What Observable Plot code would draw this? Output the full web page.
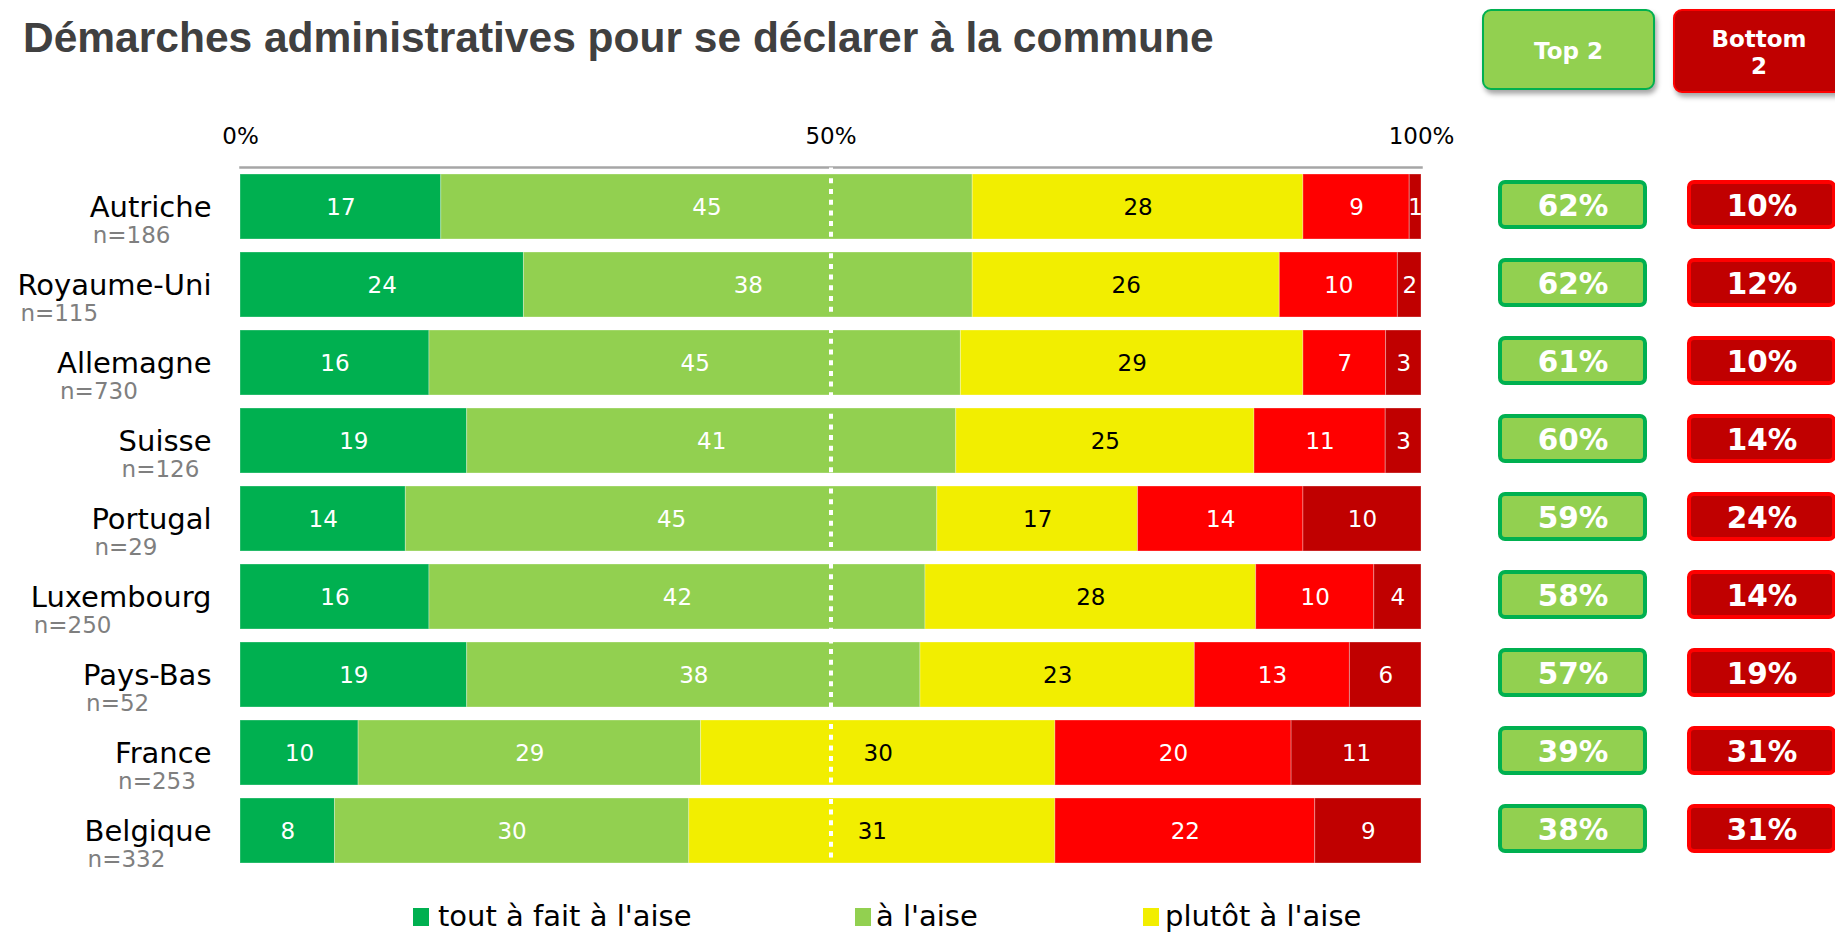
<!DOCTYPE html>
<html>
<head>
<meta charset="utf-8">
<script src="https://cdn.jsdelivr.net/npm/d3@7"></script>
<script src="https://cdn.jsdelivr.net/npm/@observablehq/plot@0.6"></script>
<style>
  body { margin: 0; background: #fff; }
  #wrap { position: relative; width: 1835px; height: 932px; overflow: hidden; font-family: "DejaVu Sans", sans-serif; }
  #wrap svg { position: absolute; left: 0; top: 0; }
  #title { position: absolute; left: 23px; top: 14px; font: bold 42.5px/47px "Liberation Sans", Arial, sans-serif; color: #404040; white-space: nowrap; }
  .hdr { position: absolute; top: 9px; box-sizing: border-box; border-radius: 9px; color: #fff; font: bold 23px/27px "DejaVu Sans", sans-serif; text-align: center; box-shadow: 2px 4px 5px rgba(0,0,0,0.35); }
  #hdrTop { left: 1482px; width: 173px; height: 81px; background: #92d050; border: 2px solid #00b050; padding-top: 27px; }
  #hdrBottom { left: 1673px; width: 172px; height: 84px; background: #c00000; border: 2px solid #ff0000; padding-top: 15px; }
  .leg { position: absolute; top: 899px; font: 29px/34px "DejaVu Sans", sans-serif; color: #000; white-space: nowrap; }
  .sw { position: absolute; top: 908px; width: 16px; height: 18px; }
</style>
</head>
<body>
<div id="wrap">
  <div id="title">Démarches administratives pour se déclarer à la commune</div>
  <div class="hdr" id="hdrTop">Top 2</div>
  <div class="hdr" id="hdrBottom">Bottom<br>2</div>
</div>
<script>
// ---- data ----
const countries = ["Autriche", "Royaume-Uni", "Allemagne", "Suisse", "Portugal", "Luxembourg", "Pays-Bas", "France", "Belgique"];
const sampleSizes = [186, 115, 730, 126, 29, 250, 52, 253, 332];
const levels = ["tout à fait à l'aise", "à l'aise", "plutôt à l'aise", "pas vraiment à l'aise", "pas du tout à l'aise"];
const toutAFait   = [17, 24, 16, 19, 14, 16, 19, 10, 8];
const aLAise      = [45, 38, 45, 41, 45, 42, 38, 29, 30];
const plutot      = [28, 26, 29, 25, 17, 28, 23, 30, 31];
const pasVraiment = [9, 10, 7, 11, 14, 10, 13, 20, 22];
const pasDuTout   = [1, 2, 3, 3, 10, 4, 6, 11, 9];
const top2    = [62, 62, 61, 60, 59, 58, 57, 39, 38];
const bottom2 = [10, 12, 10, 14, 24, 14, 19, 31, 31];
const tickValues = [0, 0.5, 1];
const tickLabels = ["0%", "50%", "100%"];
const boxColumns = ["Top 2", "Bottom 2"];
const legendShown = ["tout à fait à l'aise", "à l'aise", "plutôt à l'aise"];

// ---- styles ----
const colors = ["#00b050", "#92d050", "#f2ee00", "#ff0000", "#c00000"];
const labelColors = ["white", "white", "black", "white", "white"];
const boxFill = {"Top 2": "#92d050", "Bottom 2": "#c00000"};
const boxStroke = {"Top 2": "#00b050", "Bottom 2": "#ff0000"};

const series = [toutAFait, aLAise, plutot, pasVraiment, pasDuTout];
const rows = countries.flatMap((c, i) => levels.map((l, j) => ({country: c, level: l, value: series[j][i], tc: labelColors[j]})));
const boxRows = countries.flatMap((c, i) => [
  {country: c, col: "Top 2", v: top2[i]},
  {country: c, col: "Bottom 2", v: bottom2[i]}
]);

const W = 1835, H = 932;
const yScale = {domain: countries, axis: null, paddingInner: 13 / 78, paddingOuter: 0};

const main = Plot.plot({
  width: W, height: H,
  marginLeft: 240, marginRight: W - 1421, marginTop: 174, marginBottom: H - 863,
  x: {domain: [0, 1], axis: null},
  y: yScale,
  color: {domain: levels, range: colors},
  style: {background: "transparent", fontFamily: "DejaVu Sans, sans-serif", overflow: "visible"},
  marks: [
    Plot.frame({anchor: "top", stroke: "#a6a6a6", strokeWidth: 2.5, dy: -7}),
    Plot.barX(rows, Plot.stackX({x: "value", y: "country", fill: "level", z: "level", order: null, offset: "normalize",
      stroke: "white", strokeOpacity: 0.3, strokeWidth: 1})),
    Plot.ruleX([0.5], {stroke: "white", strokeWidth: 4, strokeDasharray: "5,5.7", insetTop: -6.4}),
    Plot.text(rows, Plot.stackX({x: "value", y: "country", z: "level", order: null, offset: "normalize",
      text: d => String(d.value), fill: "tc", fontSize: 23, dy: 1})),
    Plot.text(tickValues, {x: d => d, text: (d, i) => tickLabels[i], frameAnchor: "top", lineAnchor: "middle", dy: -38, fontSize: 23, fill: "black"}),
    Plot.text(countries, {y: d => d, text: d => d, frameAnchor: "left", textAnchor: "end", lineAnchor: "middle", dx: -29, dy: 1,
      fontSize: 29, fill: "black"}),
    Plot.text(countries, {y: d => d, text: (d, i) => "n=" + sampleSizes[i], frameAnchor: "left", textAnchor: "end", lineAnchor: "middle", dx: -29, dy: 29,
      fontSize: 23, fill: "#7f7f7f"})
  ]
});

const side = Plot.plot({
  width: W, height: H,
  marginLeft: 0, marginRight: 0, marginTop: 174, marginBottom: H - 863,
  x: {domain: boxColumns, range: [1478, 1856], padding: 0, axis: null},
  y: yScale,
  style: {background: "transparent", fontFamily: "DejaVu Sans, sans-serif"},
  marks: [
    Plot.cell(boxRows, {x: "col", y: "country", fill: d => boxFill[d.col], stroke: d => boxStroke[d.col], strokeWidth: 4,
      insetLeft: 22, insetRight: 22, insetTop: 8, insetBottom: 12, rx: 5}),
    Plot.text(boxRows, {x: "col", y: "country", text: d => d.v + "%", fill: "white", fontWeight: "bold", fontSize: 29.5})
  ]
});

const wrap = document.getElementById("wrap");
wrap.appendChild(main);
wrap.appendChild(side);

// left-align each sample size under the start of its country name
const allTexts = Array.from(main.querySelectorAll("text"));
countries.forEach((c, i) => {
  const nameEl = allTexts.find(t => t.textContent === c);
  const nEl = allTexts.find(t => t.textContent === "n=" + sampleSizes[i]);
  if (!nameEl || !nEl) return;
  const w = nameEl.getComputedTextLength();
  nEl.setAttribute("text-anchor", "start");
  nEl.setAttribute("dx", String(-w + 3));
});

// legend (visible part)
const legX = [[413, 438], [855, 876], [1143, 1165]];
legendShown.forEach((lab, k) => {
  const sw = document.createElement("div");
  sw.className = "sw";
  sw.style.left = legX[k][0] + "px";
  sw.style.background = colors[levels.indexOf(lab)];
  wrap.appendChild(sw);
  const t = document.createElement("div");
  t.className = "leg";
  t.style.left = legX[k][1] + "px";
  t.textContent = lab;
  wrap.appendChild(t);
});
</script>
</body>
</html>
